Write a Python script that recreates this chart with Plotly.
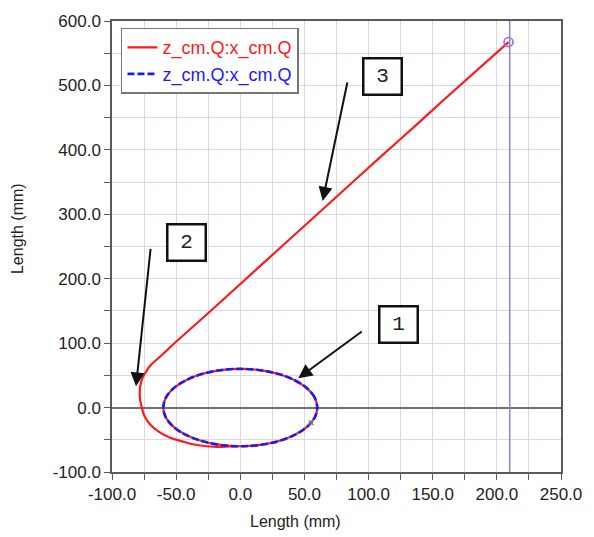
import plotly.graph_objects as go

# Reference loop (blue dashed): centre-of-mass path on the circle, mm
loop_x = [60.0, 58.0, 52.0, 42.4, 30.0, 15.5, 0.0, -15.5, -30.0, -42.4, -52.0, -58.0, -60.0,
          -58.0, -52.0, -42.4, -30.0, -15.5, 0.0, 15.5, 30.0, 42.4, 52.0, 58.0, 60.0]
loop_z = [0.0, 15.5, 30.0, 42.4, 52.0, 58.0, 60.0, 58.0, 52.0, 42.4, 30.0, 15.5, 0.0,
          -15.5, -30.0, -42.4, -52.0, -58.0, -60.0, -58.0, -52.0, -42.4, -30.0, -15.5, 0.0]

# Full path (red): one clockwise lap, release at the bottom, then the free flight
path_x = [55.2, 52.0, 42.4, 30.0, 15.5, 0.0, -15.5, -30.0, -42.4, -52.0, -58.0, -60.0,
          -58.0, -52.0, -42.4, -30.0, -15.5, 0.0, 15.5, 30.0, 42.4, 52.0, 58.0, 60.0,
          58.0, 52.0, 42.4, 30.0, 15.5, 0.0,
          -8.0, -18.2, -33.8, -46.0, -54.6, -63.0, -70.1, -74.5, -76.6, -78.2, -77.9,
          -76.0, -73.0, -70.1, -62.0, -50.7, -23.4, 15.6, 59.8, 109.1, 136.4, 160.0, 209.1]
path_z = [-23.4, -30.0, -42.4, -52.0, -58.0, -60.0, -58.0, -52.0, -42.4, -30.0, -15.5, 0.0,
          15.5, 30.0, 42.4, 52.0, 58.0, 60.0, 58.0, 52.0, 42.4, 30.0, 15.5, 0.0,
          -15.5, -30.0, -42.4, -52.0, -58.0, -60.0,
          -60.3, -61.2, -58.1, -52.0, -46.9, -38.0, -26.5, -14.0, -1.0, 14.2, 34.7,
          47.0, 57.0, 65.3, 80.0, 100.9, 149.5, 220.0, 299.7, 388.8, 437.3, 480.0, 567.3]

cursor_x = 210.0
series_name = "z_cm.Q:x_cm.Q"

x_ticks = [-100, -50, 0, 50, 100, 150, 200, 250]
x_labels = ["-100.0", "-50.0", "0.0", "50.0", "100.0", "150.0", "200.0", "250.0"]
y_ticks = [-100, 0, 100, 200, 300, 400, 500, 600]
y_labels = ["-100.0", "0.0", "100.0", "200.0", "300.0", "400.0", "500.0", "600.0"]

# Numbered callouts: label, box centre, arrow tail, arrow tip (data units)
callouts = [
    ("1", (123.7, 128.5), (95.9, 119.7), (45.2, 45.7)),
    ("2", (-42.2, 256.6), (-69.8, 248.5), (-81.3, 33.0)),
    ("3", (111.2, 514.4), (83.7, 506.8), (64.2, 320.8)),
]

FONT = "Liberation Sans, Arial, sans-serif"
GRID = "#e0d6e0"
AXIS = "#5a5a5a"

fig = go.Figure()

fig.add_trace(go.Scatter(
    x=path_x, y=path_z, mode="lines",
    line=dict(color="#ff1a1a", width=2.2, shape="spline", smoothing=1.2),
    name=f'<span style="color:#ff1a1a">{series_name}</span>',
))
fig.add_trace(go.Scatter(
    x=loop_x, y=loop_z, mode="lines",
    line=dict(color="#1a1aff", width=2.6, dash="7px,3px", shape="spline", smoothing=1.0),
    name=f'<span style="color:#1a1aff">{series_name}</span>',
))
# start point and cursor point of the path
fig.add_trace(go.Scatter(
    x=[path_x[0]], y=[path_z[0]], mode="markers",
    marker=dict(symbol="x-thin", size=5, line=dict(color="#777777", width=1.2)),
    showlegend=False, hoverinfo="skip",
))
fig.add_trace(go.Scatter(
    x=[path_x[-1]], y=[path_z[-1]], mode="markers",
    marker=dict(symbol="circle-open", size=9, line=dict(color="#7f7fc0", width=1.6)),
    showlegend=False, hoverinfo="skip",
))

# vertical cursor line
fig.add_shape(type="line", xref="x", yref="paper", x0=cursor_x, x1=cursor_x, y0=0, y1=1,
              line=dict(color="#8888c0", width=1.5), layer="above")

for label, (bx, by), (tx, ty), (hx, hy) in callouts:
    fig.add_annotation(
        x=bx, y=by, xref="x", yref="y", text=label, showarrow=False,
        font=dict(family="Liberation Mono, DejaVu Sans Mono, monospace", size=21, color="#222222"),
        bordercolor="#111111", borderwidth=2.5, borderpad=0, width=36, height=34,
        bgcolor="white",
    )
    fig.add_annotation(
        x=hx, y=hy, ax=tx, ay=ty, xref="x", yref="y", axref="x", ayref="y",
        text="", showarrow=True, arrowhead=2, arrowsize=1.4, arrowwidth=2,
        arrowcolor="#111111",
    )

# axis titles
fig.add_annotation(text="Length (mm)", xref="paper", yref="paper", x=0.4076, y=-0.109,
                   xanchor="center", yanchor="middle",
                   showarrow=False, font=dict(family=FONT, size=16, color="#222222"))
fig.add_annotation(text="Length (mm)", xref="paper", yref="paper", x=-0.209, y=0.539,
                   xanchor="center", yanchor="middle",
                   textangle=-90, showarrow=False, font=dict(family=FONT, size=16, color="#222222"))

axis_common = dict(
    showline=True, linecolor=AXIS, linewidth=1.5, mirror=True,
    ticks="outside", ticklen=6, tickcolor=AXIS, tickwidth=1,
    showgrid=True, gridcolor=GRID, gridwidth=1,
    tickfont=dict(family=FONT, size=17, color="#222222"),
    tickmode="array",
)

fig.update_xaxes(range=[-100, 250], tickvals=x_ticks, ticktext=x_labels, zeroline=False,
                 minor=dict(dtick=25, tick0=0, ticks="outside", ticklen=6, tickcolor=AXIS,
                            showgrid=True, gridcolor=GRID),
                 **axis_common)
fig.update_yaxes(range=[-100, 600], tickvals=y_ticks, ticktext=y_labels,
                 zeroline=True, zerolinecolor="#707070", zerolinewidth=2,
                 minor=dict(dtick=50, tick0=0, ticks="outside", ticklen=6, tickcolor=AXIS,
                            showgrid=True, gridcolor=GRID),
                 **axis_common)

fig.update_layout(
    width=594, height=537,
    margin=dict(l=112, r=33, t=14, b=65),
    plot_bgcolor="white", paper_bgcolor="white",
    legend=dict(x=0.02, y=0.985, xanchor="left", yanchor="top",
                bgcolor="white", bordercolor="#777777", borderwidth=1.5,
                font=dict(family=FONT, size=18)),
)

fig.write_html("out.html")
